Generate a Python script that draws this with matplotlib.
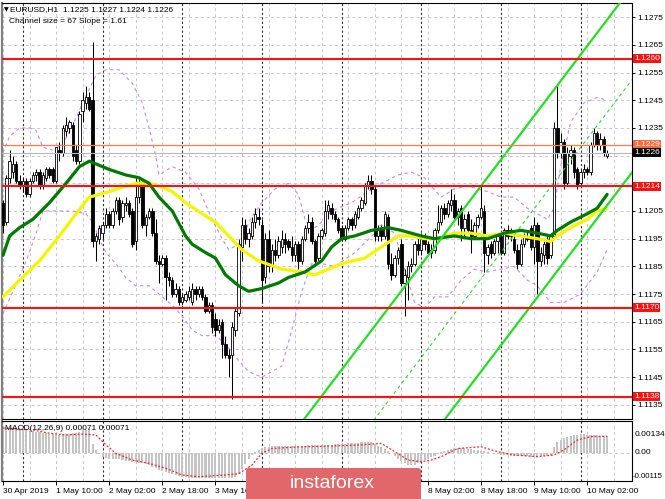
import numpy as np
import matplotlib
matplotlib.use('Agg')
import matplotlib.pyplot as plt
from matplotlib.patches import Rectangle, FancyBboxPatch
import matplotlib.transforms as mtransforms

plt.rcParams['font.family'] = ['Liberation Sans', 'DejaVu Sans']

# EURUSD H1 candles, 30 Apr 18:00 .. 10 May 08:00
opens = [1.1208, 1.1201, 1.1217, 1.1219, 1.1222, 1.1216, 1.1214, 1.1216, 1.1211, 1.1216,
         1.1218, 1.1219, 1.1214, 1.1217, 1.1220, 1.1220, 1.1216, 1.1227, 1.1226, 1.1234,
         1.1235, 1.1236, 1.1227, 1.1223, 1.1241, 1.1244, 1.1246, 1.1245, 1.1194, 1.1195,
         1.1197, 1.1200, 1.1204, 1.1200, 1.1205, 1.1209, 1.1203, 1.1207, 1.1208, 1.1205,
         1.1194, 1.1210, 1.1215, 1.1200, 1.1203, 1.1205, 1.1197, 1.1187, 1.1186, 1.1188,
         1.1181, 1.1180, 1.1175, 1.1177, 1.1172, 1.1173, 1.1174, 1.1172, 1.1177, 1.1175,
         1.1177, 1.1174, 1.1169, 1.1171, 1.1166, 1.1162, 1.1165, 1.1157, 1.1153, 1.1153,
         1.1162, 1.1168, 1.1192, 1.1200, 1.1195, 1.1196, 1.1201, 1.1203, 1.1200, 1.1181,
         1.1195, 1.1185, 1.1191, 1.1189, 1.1192, 1.1195, 1.1194, 1.1192, 1.1189, 1.1193,
         1.1187, 1.1195, 1.1199, 1.1201, 1.1194, 1.1188, 1.1196, 1.1197, 1.1205, 1.1206,
         1.1204, 1.1202, 1.1199, 1.1195, 1.1199, 1.1202, 1.1200, 1.1203, 1.1206, 1.1208,
         1.1214, 1.1216, 1.1213, 1.1196, 1.1198, 1.1196, 1.1203, 1.1186, 1.1182, 1.1188,
         1.1193, 1.1179, 1.1181, 1.1185, 1.1186, 1.1193, 1.1191, 1.1195, 1.1193, 1.1190,
         1.1191, 1.1198, 1.1201, 1.1206, 1.1204, 1.1207, 1.1209, 1.1203, 1.1206, 1.1199,
         1.1204, 1.1198, 1.1196, 1.1200, 1.1203, 1.1205, 1.1189, 1.1193, 1.1190, 1.1194,
         1.1196, 1.1190, 1.1198, 1.1196, 1.1195, 1.1191, 1.1186, 1.1193, 1.1196, 1.1199,
         1.1192, 1.1200, 1.1187, 1.1189, 1.1195, 1.1189, 1.1196, 1.1235, 1.1226, 1.1230,
         1.1215, 1.1225, 1.1227, 1.1220, 1.1215, 1.1219, 1.1220, 1.1219, 1.1229, 1.1233,
         1.1229, 1.1231, 1.1225]
highs = [1.1209, 1.1218, 1.1227, 1.1225, 1.1223, 1.1218, 1.1217, 1.1217, 1.1217, 1.1219,
         1.1220, 1.1220, 1.1219, 1.1221, 1.1221, 1.1221, 1.1228, 1.1230, 1.1236, 1.1239,
         1.1238, 1.1237, 1.1229, 1.1241, 1.1248, 1.1250, 1.1248, 1.1266, 1.1197, 1.1200,
         1.1201, 1.1206, 1.1205, 1.1206, 1.1210, 1.1210, 1.1209, 1.1210, 1.1209, 1.1206,
         1.1217, 1.1217, 1.1216, 1.1204, 1.1206, 1.1206, 1.1202, 1.1189, 1.1189, 1.1189,
         1.1183, 1.1181, 1.1179, 1.1178, 1.1175, 1.1176, 1.1178, 1.1179, 1.1178, 1.1178,
         1.1178, 1.1175, 1.1172, 1.1172, 1.1168, 1.1166, 1.1166, 1.1160, 1.1155, 1.1165,
         1.1170, 1.1195, 1.1203, 1.1202, 1.1199, 1.1203, 1.1206, 1.1206, 1.1202, 1.1197,
         1.1198, 1.1193, 1.1195, 1.1196, 1.1198, 1.1197, 1.1195, 1.1196, 1.1194, 1.1194,
         1.1196, 1.1200, 1.1204, 1.1203, 1.1195, 1.1197, 1.1199, 1.1209, 1.1209, 1.1208,
         1.1205, 1.1203, 1.1200, 1.1200, 1.1203, 1.1203, 1.1205, 1.1207, 1.1210, 1.1215,
         1.1218, 1.1218, 1.1214, 1.1200, 1.1200, 1.1205, 1.1204, 1.1190, 1.1189, 1.1192,
         1.1195, 1.1184, 1.1187, 1.1188, 1.1194, 1.1196, 1.1197, 1.1197, 1.1194, 1.1193,
         1.1199, 1.1207, 1.1207, 1.1208, 1.1209, 1.1213, 1.1211, 1.1206, 1.1207, 1.1204,
         1.1205, 1.1202, 1.1201, 1.1204, 1.1214, 1.1207, 1.1193, 1.1194, 1.1195, 1.1197,
         1.1197, 1.1199, 1.1200, 1.1199, 1.1196, 1.1193, 1.1195, 1.1197, 1.1198, 1.1200,
         1.1203, 1.1201, 1.1192, 1.1194, 1.1196, 1.1197, 1.1237, 1.1251, 1.1233, 1.1231,
         1.1228, 1.1229, 1.1228, 1.1221, 1.1220, 1.1222, 1.1221, 1.1230, 1.1235, 1.1234,
         1.1233, 1.1232, 1.1227]
lows = [1.1197, 1.1200, 1.1215, 1.1217, 1.1215, 1.1213, 1.1212, 1.1210, 1.1210, 1.1215,
        1.1216, 1.1213, 1.1213, 1.1216, 1.1217, 1.1215, 1.1215, 1.1223, 1.1225, 1.1232,
        1.1233, 1.1223, 1.1222, 1.1222, 1.1237, 1.1242, 1.1241, 1.1192, 1.1187, 1.1193,
        1.1195, 1.1199, 1.1199, 1.1199, 1.1204, 1.1200, 1.1201, 1.1205, 1.1203, 1.1192,
        1.1191, 1.1208, 1.1199, 1.1196, 1.1202, 1.1196, 1.1186, 1.1179, 1.1185, 1.1173,
        1.1178, 1.1174, 1.1174, 1.1171, 1.1171, 1.1172, 1.1173, 1.1171, 1.1173, 1.1174,
        1.1173, 1.1168, 1.1168, 1.1161, 1.1160, 1.1161, 1.1152, 1.1152, 1.1145, 1.1137,
        1.1160, 1.1167, 1.1187, 1.1193, 1.1192, 1.1195, 1.1199, 1.1200, 1.1172, 1.1179,
        1.1183, 1.1183, 1.1187, 1.1188, 1.1190, 1.1190, 1.1191, 1.1187, 1.1187, 1.1184,
        1.1186, 1.1194, 1.1197, 1.1193, 1.1185, 1.1187, 1.1195, 1.1196, 1.1202, 1.1202,
        1.1201, 1.1197, 1.1194, 1.1194, 1.1198, 1.1198, 1.1199, 1.1202, 1.1205, 1.1207,
        1.1213, 1.1211, 1.1194, 1.1194, 1.1194, 1.1195, 1.1184, 1.1180, 1.1181, 1.1186,
        1.1178, 1.1167, 1.1173, 1.1183, 1.1185, 1.1189, 1.1189, 1.1191, 1.1189, 1.1188,
        1.1190, 1.1197, 1.1200, 1.1202, 1.1203, 1.1205, 1.1202, 1.1200, 1.1194, 1.1196,
        1.1197, 1.1190, 1.1195, 1.1199, 1.1202, 1.1183, 1.1186, 1.1188, 1.1189, 1.1190,
        1.1189, 1.1189, 1.1195, 1.1194, 1.1190, 1.1184, 1.1185, 1.1192, 1.1194, 1.1191,
        1.1186, 1.1175, 1.1185, 1.1186, 1.1186, 1.1188, 1.1195, 1.1224, 1.1224, 1.1213,
        1.1214, 1.1222, 1.1217, 1.1213, 1.1214, 1.1217, 1.1218, 1.1218, 1.1228, 1.1227,
        1.1227, 1.1225, 1.1224]
closes = [1.1200, 1.1217, 1.1223, 1.1222, 1.1216, 1.1214, 1.1216, 1.1211, 1.1216, 1.1218,
          1.1219, 1.1214, 1.1218, 1.1220, 1.1218, 1.1216, 1.1228, 1.1226, 1.1235, 1.1236,
          1.1237, 1.1225, 1.1223, 1.1240, 1.1245, 1.1246, 1.1242, 1.1194, 1.1196, 1.1199,
          1.1200, 1.1204, 1.1200, 1.1205, 1.1209, 1.1202, 1.1208, 1.1208, 1.1204, 1.1193,
          1.1210, 1.1215, 1.1200, 1.1203, 1.1205, 1.1197, 1.1187, 1.1186, 1.1188, 1.1181,
          1.1180, 1.1175, 1.1177, 1.1172, 1.1174, 1.1175, 1.1176, 1.1177, 1.1175, 1.1177,
          1.1174, 1.1169, 1.1171, 1.1163, 1.1162, 1.1164, 1.1157, 1.1153, 1.1152, 1.1163,
          1.1169, 1.1193, 1.1200, 1.1195, 1.1197, 1.1201, 1.1204, 1.1202, 1.1180, 1.1195,
          1.1185, 1.1191, 1.1189, 1.1194, 1.1195, 1.1193, 1.1192, 1.1189, 1.1193, 1.1187,
          1.1195, 1.1199, 1.1201, 1.1194, 1.1187, 1.1196, 1.1198, 1.1205, 1.1207, 1.1204,
          1.1202, 1.1198, 1.1195, 1.1199, 1.1202, 1.1200, 1.1204, 1.1206, 1.1209, 1.1214,
          1.1216, 1.1213, 1.1196, 1.1198, 1.1196, 1.1204, 1.1186, 1.1182, 1.1188, 1.1191,
          1.1179, 1.1182, 1.1185, 1.1186, 1.1193, 1.1191, 1.1195, 1.1193, 1.1190, 1.1191,
          1.1198, 1.1201, 1.1206, 1.1204, 1.1208, 1.1209, 1.1203, 1.1205, 1.1199, 1.1202,
          1.1198, 1.1196, 1.1200, 1.1203, 1.1206, 1.1190, 1.1192, 1.1190, 1.1194, 1.1196,
          1.1190, 1.1198, 1.1196, 1.1198, 1.1191, 1.1186, 1.1193, 1.1196, 1.1195, 1.1192,
          1.1200, 1.1187, 1.1190, 1.1193, 1.1188, 1.1196, 1.1235, 1.1226, 1.1230, 1.1215,
          1.1226, 1.1227, 1.1219, 1.1214, 1.1219, 1.1220, 1.1219, 1.1229, 1.1233, 1.1229,
          1.1231, 1.1226, 1.1226]

date_ticks = [0, 16, 32, 48, 64, 80, 96, 112, 128, 144, 160, 176]
date_labels = ['30 Apr 2019', '1 May 10:00', '2 May 02:00', '2 May 18:00', '3 May 10:00',
               '6 May 02:00', '6 May 18:00', '7 May 10:00', '8 May 02:00', '8 May 18:00',
               '9 May 10:00', '10 May 02:00']
day_starts = [6, 30, 54, 78, 102, 126, 150, 174]

price_ticks = [1.1275, 1.1265, 1.1255, 1.1245, 1.1235, 1.1205, 1.1195, 1.1185,
               1.1175, 1.1165, 1.1155, 1.1145, 1.1135]
levels = [1.1260, 1.1214, 1.1170, 1.1138]
ask_price = 1.1229
bid_price = 1.1226

# moving averages (green = 30, yellow = 50), read at sample bars
ma_green_bars = [0, 2, 5, 9, 14, 19, 23, 26, 28, 32, 37, 41, 44, 47, 51, 55, 57, 61, 64, 67,
                 71, 74, 78, 83, 86, 91, 96, 99, 102, 106, 111, 116, 120, 126, 130, 136, 141,
                 146, 151, 156, 161, 165, 167, 171, 176, 179, 182]
ma_green = [1.1189, 1.1196, 1.1199, 1.1202, 1.1208, 1.1215, 1.1221, 1.1223, 1.1222, 1.1220,
            1.1218, 1.1217, 1.1215, 1.1210, 1.1205, 1.1196, 1.1193, 1.1190, 1.1188, 1.1182,
            1.1178, 1.1176, 1.1177, 1.1179, 1.1181, 1.1183, 1.1187, 1.1192, 1.1195, 1.1196,
            1.1198, 1.1199, 1.1198, 1.1196, 1.1195, 1.1196, 1.1195, 1.1195, 1.1197, 1.1198,
            1.1197, 1.1196, 1.1198, 1.1201, 1.1204, 1.1206, 1.1211]
ma_yellow_bars = [0, 5, 11, 17, 22, 26, 29, 32, 37, 40, 44, 47, 51, 55, 60, 64, 68, 72, 77,
                  84, 90, 94, 102, 109, 114, 119, 123, 127, 131, 136, 141, 146, 151, 156, 161,
                  165, 167, 171, 176, 179, 182]
ma_yellow = [1.1174, 1.1180, 1.1187, 1.1196, 1.1204, 1.1210, 1.1211, 1.1212, 1.1214, 1.1215,
             1.1215, 1.1214, 1.1212, 1.1208, 1.1204, 1.1201, 1.1196, 1.1191, 1.1187, 1.1184,
             1.1183, 1.1182, 1.1186, 1.1188, 1.1192, 1.1196, 1.1196, 1.1195, 1.1195, 1.1197,
             1.1197, 1.1196, 1.1197, 1.1196, 1.1195, 1.1194, 1.1196, 1.1199, 1.1202, 1.1205,
             1.1206]

# Bollinger bands
bb_up_bars = [0, 2, 5, 8, 10, 12, 15, 18, 21, 24, 26, 28, 31, 35, 39, 42, 44, 46, 47, 51, 55,
              59, 63, 66, 68, 71, 75, 78, 82, 86, 89, 91, 93, 96, 99, 105, 110, 114, 119, 123,
              127, 129, 132, 136, 140, 146, 150, 154, 158, 161, 164, 166, 168, 171, 175, 179, 182]
bb_up = [1.1226, 1.1232, 1.1235, 1.1235, 1.1234, 1.1228, 1.1227, 1.1229, 1.1236, 1.1244,
         1.1249, 1.1254, 1.1256, 1.1256, 1.1251, 1.1244, 1.1235, 1.1225, 1.1218, 1.1221,
         1.1219, 1.1213, 1.1202, 1.1195, 1.1191, 1.1193, 1.1203, 1.1208, 1.1213, 1.1215,
         1.1211, 1.1202, 1.1198, 1.1201, 1.1205, 1.1208, 1.1212, 1.1215, 1.1218, 1.1219,
         1.1217, 1.1214, 1.1210, 1.1213, 1.1214, 1.1212, 1.1210, 1.1210, 1.1206, 1.1204,
         1.1202, 1.1206, 1.1221, 1.1237, 1.1244, 1.1246, 1.1245]
bb_lo_bars = [0, 3, 7, 10, 12, 16, 21, 25, 27, 29, 31, 34, 37, 40, 44, 47, 51, 54, 57, 60, 64,
              67, 71, 74, 78, 84, 87, 90, 93, 96, 100, 106, 112, 114, 118, 121, 124, 127, 130,
              134, 138, 142, 146, 150, 154, 158, 161, 165, 169, 174, 179, 182]
bb_lo = [1.1168, 1.1176, 1.1187, 1.1197, 1.1205, 1.1205, 1.1205, 1.1204, 1.1201, 1.1195,
         1.1190, 1.1186, 1.1181, 1.1178, 1.1178, 1.1175, 1.1171, 1.1167, 1.1162, 1.1160,
         1.1160, 1.1157, 1.1151, 1.1147, 1.1145, 1.1149, 1.1162, 1.1176, 1.1186, 1.1186,
         1.1185, 1.1190, 1.1197, 1.1200, 1.1197, 1.1184, 1.1172, 1.1170, 1.1174, 1.1174,
         1.1180, 1.1184, 1.1183, 1.1184, 1.1185, 1.1180, 1.1178, 1.1172, 1.1172, 1.1175,
         1.1183, 1.1191]

# regression channel (anchor bar -> price of upper / lower border)
channel_bars = [80, 189.5]
channel_upper = [1.11129, 1.12859]
channel_lower = [1.10459, 1.12189]

# MACD(12,26,9): histogram per bar in units of 1e-5, signal at sample bars
macd_hist = [105, 104, 104, 103, 102, 100, 98, 96, 94, 92,
             90, 88, 86, 83, 80, 78, 77, 77, 78, 80, 82,
             84, 86, 90, 95, 98, 100,
             40, 15, -5, -15, -20,
             -22, -23, -24, -25, -27, -30, -33,
             -36, -38, -40, -42, -45, -50, -55,
             -62, -68, -72, -78, -82, -86, -90,
             -95, -98, -100, -102, -103, -103, -103, -103, -104, -104, -104, -104, -104, -103, -103, -103, -102,
             -97, -85, -65, -45, -25, -8, 5,
             15, 22, 26, 28, 29, 30, 30, 31, 31, 31, 31, 31, 31, 32, 32, 33, 33, 33, 33, 34, 34,
             35, 36, 37, 38, 39, 40, 41, 42, 43, 44, 46, 47, 48, 48,
             40, 32, 25, 18, 10,
             0, -12, -22, -32, -42, -48, -49, -47, -42, -35,
             -28, -22, -16, -10, -4,
             4, 10, 15, 19, 21, 22, 21, 20, 19, 17,
             14, 12, 10, 8, 4, 1, -2,
             -5, -7, -8, -9, -10, -11, -12, -13, -13, -13, -14, -14, -14, -13, -12, -11, -10,
             25, 45, 55, 62, 68,
             72, 75, 77, 78, 78, 77, 76, 75, 74, 73, 72, 71]
signal_bars = [0, 9, 14, 19, 24, 28, 31, 34, 39, 44, 49, 54, 59, 67, 71, 75, 78, 81, 90, 99,
               108, 114, 118, 122, 126, 129, 132, 137, 144, 149, 154, 161, 166, 169, 173, 177, 182]
signal = [105, 97, 83, 76, 80, 76, 35, 0, -28, -42, -62, -90, -97, -90, -85, -49, 0, 20, 27,
          30, 35, 41, 7, -28, -35, -28, -14, 20, 27, 7, -7, -14, -7, 14, 55, 69, 71]

W, H = 665, 499
fig = plt.figure(figsize=(W / 100, H / 100), dpi=100)


def box(x0, y0, x1, y1):
    return [x0 / W, 1 - y1 / H, (x1 - x0) / W, (y1 - y0) / H]


ax = fig.add_axes(box(2, 3, 632, 419))
axm = fig.add_axes(box(2, 421, 632, 481))

grid_c = '#c8c8c8'
xs = np.arange(len(closes))

# ---------- main price window ----------
ax.set_xlim(-0.3, 189.5)
ax.set_ylim(1.11299, 1.12801)
for p in np.arange(1.1135, 1.12755, 0.001):
    ax.axhline(p, color=grid_c, lw=0.7, ls=(0, (3, 3)), zorder=0.5)
for a in (ax, axm):
    for b in range(0, 190, 8):
        a.axvline(b, color=grid_c, lw=0.7, ls=(0, (3, 3)), zorder=0.5)
    for b in day_starts:
        a.axvline(b, color='#303030', lw=0.8, ls=(0, (2, 2)), zorder=0.6)

ax.plot(bb_up_bars, bb_up, color='#c688ee', lw=0.8, ls=(0, (3, 3)), zorder=2)
ax.plot(bb_lo_bars, bb_lo, color='#c688ee', lw=0.8, ls=(0, (3, 3)), zorder=2)

ax.vlines(xs, lows, highs, color='black', lw=0.75, zorder=4)
for i in xs:
    o, c = opens[i], closes[i]
    bull = c >= o
    ax.add_patch(Rectangle((i - 0.36, min(o, c)), 0.72, max(abs(c - o), 0.00002),
                           facecolor='white' if bull else 'black', edgecolor='black',
                           lw=0.6, zorder=5))

ax.plot(ma_yellow_bars, ma_yellow, color='#f5f500', lw=2.3, zorder=6, solid_capstyle='round')
ax.plot(ma_green_bars, ma_green, color='#007a00', lw=2.3, zorder=6.5, solid_capstyle='round')

mid = [(u + l) / 2 for u, l in zip(channel_upper, channel_lower)]
ax.plot(channel_bars, channel_upper, color='#22e022', lw=1.6, zorder=7)
ax.plot(channel_bars, channel_lower, color='#22e022', lw=1.6, zorder=7)
ax.plot(channel_bars, mid, color='#22e022', lw=0.8, ls=(0, (3, 3)), zorder=7)

for lv in levels:
    ax.axhline(lv, color='#ff1010', lw=1.5, zorder=8)
ax.axhline(bid_price, color='#b8b8b8', lw=0.8, zorder=7.5)
ax.axhline(ask_price, color='#ff7a45', lw=0.9, zorder=8)

ax.yaxis.tick_right()
ax.set_yticks(price_ticks)
ax.set_yticklabels([f'{p:.4f}' for p in price_ticks])
ax.tick_params(axis='y', length=2.5, width=0.7, labelsize=6, pad=1.5)
ax.set_xticks([])

blend = mtransforms.blended_transform_factory(ax.transAxes, ax.transData)
tags = [(lv, '#ff1010') for lv in levels] + [(ask_price, '#ff6a3a'), (bid_price, 'black')]
for val, col in tags:
    ax.text(1.003, val, f'{val:.4f}', transform=blend, fontsize=6, color='white',
            va='center', ha='left', zorder=20, clip_on=False,
            bbox=dict(boxstyle='square,pad=0.12', fc=col, ec='none'))

# ---------- MACD window ----------
axm.set_xlim(-0.3, 189.5)
axm.set_ylim(-0.00115, 0.00134)
axm.axhline(0, color=grid_c, lw=0.7, ls=(0, (3, 3)), zorder=0.5)
axm.bar(xs, np.array(macd_hist) * 1e-5, width=0.62, color='#c4c4c4', zorder=2)
axm.plot(signal_bars, np.array(signal) * 1e-5, color='#ff2020', lw=0.9,
         ls=(0, (1.5, 1.5)), zorder=3)
axm.set_yticks([])
axm.set_xticks(date_ticks)

# labels lying fully under the watermark are not visible in the screenshot;
# the one running into it is cut at the watermark edge
wm_x0, wm_x1 = 246, 421
shown, cut = [], []
for b, t in zip(date_ticks, date_labels):
    px = 2 + (b + 0.3) / 189.8 * 630
    shown.append('' if (px > wm_x0 and px + 45 < wm_x1) else t)
    cut.append(px < wm_x0 < px + 48)
axm.set_xticklabels(shown)
for lbl, c in zip(axm.get_xticklabels(), cut):
    lbl.set_ha('left')
    if c:
        lbl.set_clip_on(True)
        lbl.set_clip_box(mtransforms.Bbox.from_extents(0, 0, wm_x0, H))
axm.tick_params(axis='x', length=3, width=0.7, labelsize=6, pad=2)

for a in (ax, axm):
    for s in a.spines.values():
        s.set_color('black')
        s.set_linewidth(0.8)
ax.spines['left'].set_color('#808080')
ax.spines['left'].set_linewidth(1.6)
axm.spines['left'].set_color('#808080')
axm.spines['left'].set_linewidth(1.6)

# ---------- texts and watermark in pixel coordinates ----------
ov = fig.add_axes([0, 0, 1, 1])
ov.set_xlim(0, W)
ov.set_ylim(H, 0)
ov.axis('off')
ov.patch.set_alpha(0)
ov.set_zorder(10)

ov.text(4, 9.5, '\u25bc', fontsize=4.5, va='center', ha='left', family=['DejaVu Sans'])
ov.text(10, 9.5, 'EURUSD,H1  1.1225 1.1227 1.1224 1.1226', fontsize=6, va='center')
ov.text(9, 21, 'Channel size = 67 Slope = 1.61', fontsize=6, va='center')
ov.text(5, 428, 'MACD(12,26,9) 0.00071 0.00071', fontsize=6, va='center')
ov.text(635, 435, '0.00134', fontsize=6, va='center')
ov.text(635, 453, '0.00', fontsize=6, va='center')
ov.text(633, 477, '-0.00115', fontsize=5.6, va='center')

ov.add_patch(FancyBboxPatch((wm_x0, 468), wm_x1 - wm_x0, 34,
                            boxstyle='round,pad=0,rounding_size=3',
                            fc='#e2676a', ec='none', zorder=1))
ov.text(290, 484, 'instaforex', fontsize=14, color='white', va='center', ha='left', zorder=2)

fig.savefig('out.png', dpi=100)
